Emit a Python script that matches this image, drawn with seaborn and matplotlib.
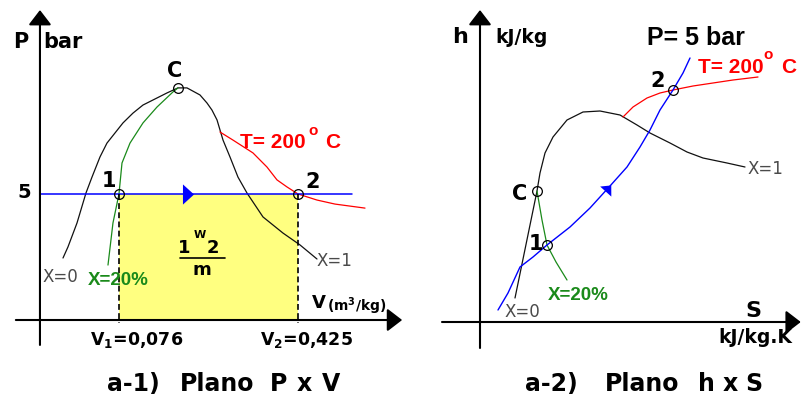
import matplotlib
matplotlib.use("Agg")
import numpy as np
import matplotlib.pyplot as plt
from matplotlib.transforms import Affine2D
from matplotlib.lines import Line2D
import seaborn as sns

# ---------------- P x v plane (v in m3/kg, P in bar) ----------------
sat_v = [-0.0331, -0.0234, -0.0058, 0.0117, 0.0234, 0.0390, 0.0526, 0.0682, 0.0838,
         0.1033, 0.1228, 0.1501, 0.1696, 0.1910, 0.2086, 0.2339, 0.2476, 0.2573,
         0.2671, 0.2788, 0.2924, 0.3080, 0.3255, 0.3567, 0.3957, 0.4288, 0.4620]
sat_P = [2.46, 2.90, 3.85, 5.04, 5.67, 6.47, 7.02, 7.42, 7.82,
         8.21, 8.53, 8.81, 9.01, 9.21, 9.21, 8.93, 8.61, 8.33,
         7.94, 7.14, 6.47, 5.67, 5.04, 4.09, 3.45, 2.98, 2.42]
x20_v = [0.0546, 0.0643, 0.0760, 0.0819, 0.0975, 0.1228, 0.1501, 0.1813, 0.1910]
x20_P = [2.18, 3.85, 5.00, 6.23, 7.02, 7.82, 8.45, 9.05, 9.21]
t200_v = [0.2729, 0.2982, 0.3372, 0.3645, 0.3840, 0.4035, 0.4250, 0.4620, 0.4971, 0.5556]
t200_P = [7.46, 7.14, 6.63, 6.07, 5.56, 5.28, 5.00, 4.76, 4.60, 4.44]
P_line = 5.0
v_states = [0.076, 0.425]          # v1, v2
crit_v, crit_P = 0.191, 9.21

# ---------------- h x s plane (schematic units) ----------------
dome_s = [0.875, 1.425, 1.5, 1.625, 1.825, 2.175, 2.575, 3.0, 3.5, 3.925,
          4.25, 4.75, 5.175, 5.575, 6.175, 6.625]
dome_h = [240, 1310, 1490, 1690, 1850, 2020, 2100, 2110, 2070, 1970,
          1890, 1790, 1700, 1640, 1590, 1550]
x20hs_s = [1.425, 1.55, 1.675, 1.9, 2.175]
x20hs_h = [1310, 1020, 770, 600, 420]
iso_s = [0.45, 0.70, 1.0, 1.325, 1.675, 2.25, 2.75, 3.25, 3.675, 4.0,
         4.25, 4.5, 4.825, 5.075, 5.25]
iso_h = [120, 290, 550, 650, 770, 950, 1140, 1360, 1550, 1750,
         1920, 2120, 2320, 2490, 2640]
t200hs_s = [3.575, 3.825, 4.175, 4.5, 4.825, 5.325, 5.825, 6.325, 6.95]
t200hs_h = [2050, 2150, 2240, 2290, 2320, 2360, 2390, 2420, 2450]
crit_s, crit_h = 1.425, 1310
st1_s, st1_h = 1.675, 770
st2_s, st2_h = 4.825, 2320

sns.set_style("white")
plt.rcParams["font.family"] = ["DejaVu Sans"]
plt.rcParams["mathtext.fontset"] = "dejavusans"

W, H = 803, 395
fig = plt.figure(figsize=(W / 100, H / 100), dpi=100)
px = Affine2D().scale(1 / W, -1 / H).translate(0, 1) + fig.transFigure

BLACK = "#111111"
GREEN = "#1a8a1a"
RED = "#ff0000"
BLUE = "#0000ff"
GRAY = "#4a4a4a"


def label(x, y, s, size=15, color="black", weight="bold", family="DejaVu Sans"):
    fig.text(x, y, s, transform=px, fontsize=size, color=color, fontweight=weight,
             family=family, ha="left", va="baseline")


def tri_marker(angle_deg):
    base = np.array([[-0.55, -1.0], [-0.55, 1.0], [0.55, 0.0], [-0.55, -1.0]])
    a = np.deg2rad(angle_deg)
    rot = np.array([[np.cos(a), -np.sin(a)], [np.sin(a), np.cos(a)]])
    return base @ rot.T


def axis_arrow(ax, start, end):
    ax.annotate("", xy=end, xytext=start,
                arrowprops=dict(arrowstyle="-|>,head_length=0.65,head_width=0.5",
                                mutation_scale=14, lw=1.5, color="black",
                                shrinkA=0, shrinkB=0))


def curve(ax, x, y, color, lw=0.9):
    sns.lineplot(x=x, y=y, sort=False, estimator=None, color=color, lw=lw, ax=ax)


def state(ax, x, y):
    ax.plot(x, y, ls="none", marker="o", ms=7, mfc="none", mec="black", mew=0.9, zorder=5)


# ================= left panel: P x v =================
ax1 = fig.add_axes([0, 0, 410 / W, 1])
ax1.set_xlim(-0.1559, 0.6433)
ax1.set_ylim(-2.976, 12.698)
ax1.set_axis_off()

ax1.fill_between(v_states, 0, P_line, color="#ffff80", lw=0, zorder=1)
curve(ax1, sat_v, sat_P, BLACK)
curve(ax1, x20_v, x20_P, GREEN)
curve(ax1, t200_v, t200_P, RED)
curve(ax1, [-0.078, 0.530], [P_line, P_line], BLUE, lw=1.1)
for v in v_states:
    ax1.plot([v, v], [P_line, -0.1], color="black", lw=1.2, ls=(0, (3.5, 2)), zorder=3)
ax1.plot(0.2115, P_line, marker=tri_marker(0), ms=14.5, color=BLUE, mew=0, zorder=4)
state(ax1, v_states, [P_line, P_line])
state(ax1, [crit_v], [crit_P])

axis_arrow(ax1, (-0.078, -0.99), (-0.078, 12.3))
axis_arrow(ax1, (-0.125, 0), (0.628, 0))

label(13, 48, "P", 15)
label(43, 48, "bar", 15)
label(167, 77, "C", 15)
label(102, 187, "1", 15)
label(305, 188, "2", 15)
label(17, 198, "5", 14)
label(240, 148, "T= 200", 15, RED, family="Liberation Sans")
label(308, 135, "o", 11, RED, family="Liberation Sans")
label(325, 148, "C", 15, RED, family="Liberation Sans")
label(43, 282, "X=0", 12, GRAY, "normal")
label(317, 266, "X=1", 12, GRAY, "normal")
label(88, 285, "X=20%", 13.5, GREEN, family="Liberation Sans")
# work per unit mass
label(178, 253, "1", 13)
label(194, 238, "W", 8)
label(207, 253, "2", 13)
fig.add_artist(Line2D([180, 225], [258, 258], transform=px, color="black", lw=1.2))
label(193, 275, "m", 13)
# volume axis annotations
label(312, 308, "V", 13)
label(327, 311, r"(m$^{\mathbf{3}}$/kg)", 10)
label(90, 345, r"$\mathbf{V}_{\mathbf{1}}$=0,076", 12.5)
label(260, 345, r"$\mathbf{V}_{\mathbf{2}}$=0,425", 12.5)
# caption
label(107, 391, "a-1)", 17)
label(180, 391, "Plano", 17)
label(270, 391, "P", 17)
label(297, 391, "x", 17)
label(322, 391, "V", 17)

# ================= right panel: h x s =================
ax2 = fig.add_axes([410 / W, 0, 393 / W, 1])
ax2.set_xlim(-1.75, 8.075)
ax2.set_ylim(-730, 3220)
ax2.set_axis_off()

curve(ax2, dome_s, dome_h, BLACK)
curve(ax2, x20hs_s, x20hs_h, GREEN)
curve(ax2, t200hs_s, t200hs_h, RED)
curve(ax2, iso_s, iso_h, BLUE, lw=1.0)
ax2.plot(3.2, 1338, marker=tri_marker(48), ms=12, color=BLUE, mew=0, zorder=4)
state(ax2, [crit_s, st1_s, st2_s], [crit_h, st1_h, st2_h])

axis_arrow(ax2, (0, -260), (0, 3120))
axis_arrow(ax2, (-0.95, 0), (8.02, 0))

label(452, 43, "h", 16)
label(495, 43, "kJ/kg", 13.5)
label(647, 45, "P= 5 bar", 18, family="Liberation Sans")
label(698, 73, "T= 200", 15, RED, family="Liberation Sans")
label(763, 59, "o", 11, RED, family="Liberation Sans")
label(781, 73, "C", 15, RED, family="Liberation Sans")
label(650, 87, "2", 15)
label(512, 200, "C", 15)
label(529, 250, "1", 15)
label(548, 300, "X=20%", 13.5, GREEN, family="Liberation Sans")
label(505, 317, "X=0", 12, GRAY, "normal")
label(748, 174, "X=1", 12, GRAY, "normal")
label(745, 317, "S", 16)
label(718, 343, "kJ/kg.K", 13.5)
label(525, 391, "a-2)", 17)
label(605, 391, "Plano", 17)
label(698, 391, "h", 17)
label(723, 391, "x", 17)
label(745, 391, "S", 17)

fig.savefig("out.png", dpi=100, facecolor="white")
